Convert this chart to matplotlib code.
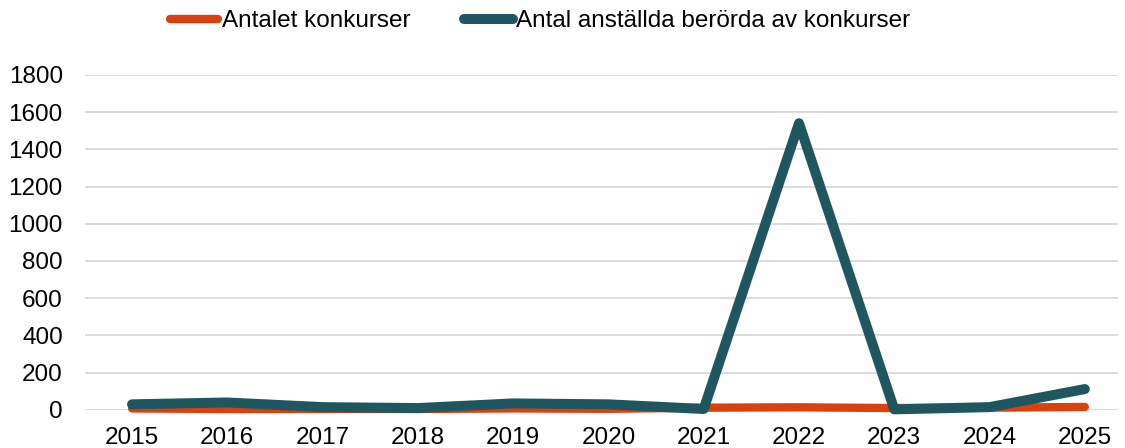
import matplotlib.pyplot as plt
from matplotlib.lines import Line2D

plt.rcParams["font.family"] = ["Liberation Sans", "DejaVu Sans"]

years = ["2015", "2016", "2017", "2018", "2019", "2020", "2021", "2022", "2023", "2024", "2025"]
antal_konkurser = [8, 5, 5, 5, 8, 6, 12, 14, 10, 12, 16]
antal_anstallda = [30, 40, 15, 10, 35, 30, 5, 1540, 3, 15, 112]

RED = "#D9410F"
TEAL = "#1F5760"

fig = plt.figure(figsize=(11.25, 4.48), dpi=100)
ax = fig.add_axes([0.0756, 0.085, 0.918, 0.748])

x = list(range(len(years)))
ax.plot(x, antal_konkurser, color=RED, linewidth=6, solid_capstyle="round",
        solid_joinstyle="round", clip_on=False, zorder=3)
ax.plot(x, antal_anstallda, color=TEAL, linewidth=7.2, solid_capstyle="round",
        solid_joinstyle="round", clip_on=False, zorder=4)

ax.set_xlim(-0.493, len(years) - 1 + 0.346)
ax.set_ylim(0, 1800)
ax.set_yticks(range(0, 1801, 200))
ax.set_xticks(x)
ax.set_xticklabels(years)
ax.grid(axis="y", color="#D9D9D9", linewidth=1.3)
ax.set_axisbelow(True)
for s in ax.spines.values():
    s.set_visible(False)
ax.tick_params(axis="both", length=0, labelsize=17.5, colors="black")
ax.tick_params(axis="x", pad=12)
ax.tick_params(axis="y", pad=16)

handles = [
    Line2D([0], [0], color=RED, linewidth=6, solid_capstyle="round"),
    Line2D([0], [0], color=TEAL, linewidth=7.2, solid_capstyle="round"),
]
fig.legend(handles, ["Antalet konkurser", "Antal anställda berörda av konkurser"],
           loc="center", bbox_to_anchor=(0.48, 0.953), ncol=2, frameon=False,
           fontsize=17.5, handlelength=2.0, handletextpad=0.15, columnspacing=2.2)

fig.savefig("out.png", dpi=100)
